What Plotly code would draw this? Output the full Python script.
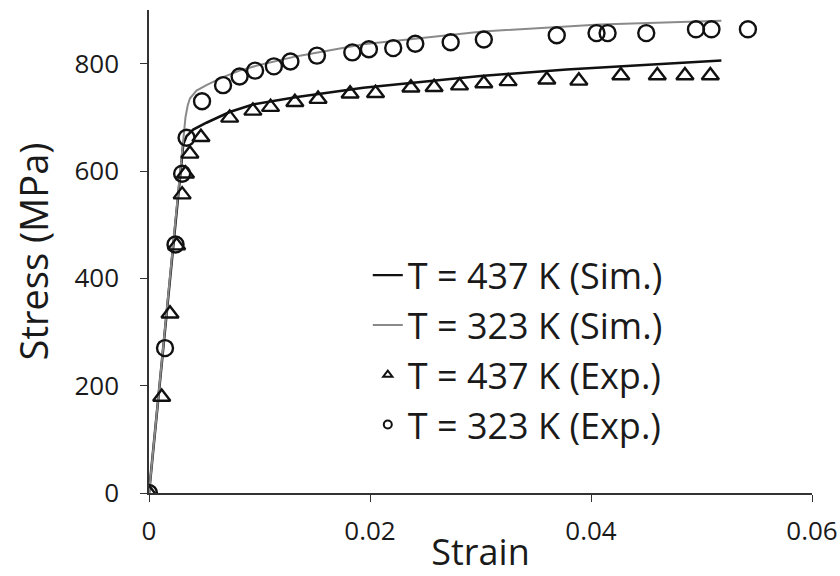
import plotly.graph_objects as go

# Experimental stress-strain points (strain, MPa)
exp_437_strain = [0.0, 0.00115, 0.0019, 0.0025, 0.003, 0.0033, 0.0037, 0.0047, 0.0073, 0.0094,
                  0.011, 0.0132, 0.0153, 0.0182, 0.0205, 0.0237, 0.0258, 0.0281, 0.0303,
                  0.0325, 0.036, 0.0389, 0.0427, 0.046, 0.0485, 0.0508]
exp_437_stress = [0, 179, 334, 461, 556, 595, 632, 663, 699, 712,
                  719, 728, 734, 744, 745, 755, 756, 759, 763,
                  767, 770, 768, 778, 778, 778, 778]

exp_323_strain = [0.0, 0.00145, 0.0024, 0.003, 0.0034, 0.0048, 0.0067, 0.0082, 0.0096,
                  0.0113, 0.0128, 0.0152, 0.0184, 0.0199, 0.0221, 0.0241, 0.0273,
                  0.0303, 0.0369, 0.0405, 0.0415, 0.045, 0.0495, 0.0509, 0.0542]
exp_323_stress = [0, 270, 463, 595, 662, 730, 760, 776, 787,
                  795, 804, 815, 821, 827, 829, 837, 840,
                  845, 853, 857, 857, 857, 864, 864, 864]

# Simulated curves
sim_437_strain = [0.0, 0.0031, 0.0034, 0.004, 0.0052, 0.0073, 0.0094, 0.0134, 0.0194,
                  0.0254, 0.03, 0.0378, 0.045, 0.0518]
sim_437_stress = [0, 650, 665, 677, 690, 710, 724, 738, 755,
                  768, 777, 789, 798, 806]

sim_323_strain = [0.0, 0.0031, 0.0033, 0.0035, 0.0037, 0.0043, 0.0052, 0.0067, 0.0082,
                  0.0097, 0.0134, 0.0194, 0.0254, 0.0302, 0.0408, 0.0518]
sim_323_stress = [0, 650, 700, 722, 735, 750, 760, 775, 787,
                  796, 814, 836, 850, 860, 873, 880]

x_ticks = [0, 0.02, 0.04, 0.06]
x_tick_text = ["0", "0.02", "0.04", "0.06"]
y_ticks = [0, 200, 400, 600, 800]

FONT = "Open Sans"
INK = "#1a1a1a"
GRAY = "#8a8a8a"

fig = go.Figure()

# plotted series (legend handled by the compact entries below)
fig.add_trace(go.Scatter(x=sim_437_strain, y=sim_437_stress, mode="lines",
                         line=dict(color="#111111", width=2.6), showlegend=False))
fig.add_trace(go.Scatter(x=sim_323_strain, y=sim_323_stress, mode="lines",
                         line=dict(color=GRAY, width=2), showlegend=False))
fig.add_trace(go.Scatter(x=exp_437_strain, y=exp_437_stress, mode="markers",
                         marker=dict(symbol="triangle-up-open", size=15,
                                     color="#111111", line=dict(width=2.4, color="#111111")),
                         showlegend=False))
fig.add_trace(go.Scatter(x=exp_323_strain, y=exp_323_stress, mode="markers",
                         marker=dict(symbol="circle-open", size=16,
                                     color="#111111", line=dict(width=2.4, color="#111111")),
                         showlegend=False))

# legend entries with small symbols
fig.add_trace(go.Scatter(x=[None], y=[None], mode="lines", name="T = 437 K (Sim.)",
                         line=dict(color="#111111", width=2.4), legendgroup="a"))
fig.add_trace(go.Scatter(x=[None], y=[None], mode="lines", name="T = 323 K (Sim.)",
                         line=dict(color=GRAY, width=2), legendgroup="b"))
fig.add_trace(go.Scatter(x=[None], y=[None], mode="markers", name="T = 437 K (Exp.)",
                         marker=dict(symbol="triangle-up-open", size=8, color="#111111",
                                     line=dict(width=2, color="#111111")), legendgroup="c"))
fig.add_trace(go.Scatter(x=[None], y=[None], mode="markers", name="T = 323 K (Exp.)",
                         marker=dict(symbol="circle-open", size=8, color="#111111",
                                     line=dict(width=2, color="#111111")), legendgroup="d"))

axis_common = dict(showgrid=False, zeroline=False, showline=True, linecolor="#333333",
                   linewidth=1.5, ticks="outside", ticklen=7, tickwidth=1.2,
                   tickcolor="#333333", automargin=False,
                   tickfont=dict(family=FONT, size=26, color=INK))

fig.update_xaxes(range=[0, 0.06], tickvals=x_ticks, ticktext=x_tick_text, ticklabelstandoff=7,
                 title=dict(text="Strain", font=dict(family=FONT, size=36, color=INK), standoff=0),
                 **axis_common)
fig.update_yaxes(range=[0, 900], tickvals=y_ticks, ticklabelstandoff=16,
                 title=dict(text="Stress (MPa)", font=dict(family=FONT, size=38, color=INK), standoff=14),
                 **axis_common)

fig.update_layout(
    width=840, height=576,
    margin=dict(l=149, r=28, t=10, b=83),
    paper_bgcolor="white", plot_bgcolor="white",
    showlegend=True,
    legend=dict(x=0.33, y=0.513, xanchor="left", yanchor="top",
                font=dict(family=FONT, size=36, color=INK),
                bgcolor="rgba(0,0,0,0)", itemwidth=30,
                traceorder="grouped", tracegroupgap=0),
)

fig.write_html("out.html")
